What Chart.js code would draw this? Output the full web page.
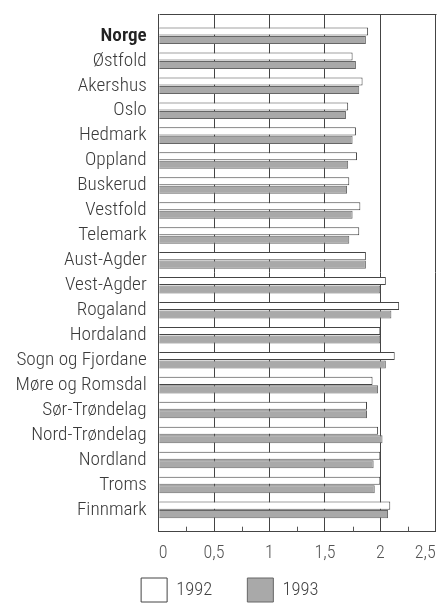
<!DOCTYPE html>
<html>
<head>
<meta charset="utf-8">
<script src="https://cdn.jsdelivr.net/npm/chart.js@4/dist/chart.umd.min.js"></script>
<style>
  html, body { margin: 0; padding: 0; background: #ffffff; }
  #wrap { width: 440px; height: 606px; position: relative; }
</style>
</head>
<body>
<div id="wrap"><canvas id="c"></canvas></div>
<script>
const counties = ['Norge','Østfold','Akershus','Oslo','Hedmark','Oppland','Buskerud','Vestfold','Telemark','Aust-Agder','Vest-Agder','Rogaland','Hordaland','Sogn og Fjordane','Møre og Romsdal','Sør-Trøndelag','Nord-Trøndelag','Nordland','Troms','Finnmark'];
const values1992 = [1.89,1.75,1.84,1.71,1.78,1.79,1.72,1.82,1.81,1.87,2.05,2.17,2.00,2.13,1.93,1.88,1.98,2.00,2.00,2.09];
const values1993 = [1.87,1.78,1.81,1.69,1.75,1.71,1.70,1.75,1.72,1.87,2.00,2.10,2.00,2.05,1.98,1.88,2.02,1.94,1.95,2.07];
const seriesNames = ['1992','1993'];
const xTickLabels = ['0','0,5','1','1,5','2','2,5'];

const FONT = "Roboto, 'Liberation Sans', sans-serif";

const framePlugin = {
  id: 'frame',
  afterLayout(chart) {
    const lg = chart.legend;
    if (lg) {
      const h = lg.bottom - lg.top;
      lg.top = 543; lg.bottom = 543 + h;
      lg.left += 5; lg.right += 5;
    }
  },
  beforeDatasetsDraw(chart) {
    const {ctx, chartArea: a} = chart;
    ctx.save();
    ctx.strokeStyle = '#444';
    ctx.lineWidth = 1;
    ctx.beginPath();
    ctx.moveTo(Math.round(a.left) + 0.5, Math.round(a.top) + 0.5);
    ctx.lineTo(Math.round(a.right) + 0.5, Math.round(a.top) + 0.5);
    ctx.stroke();
    ctx.restore();
  },
  afterDatasetsDraw(chart) {
    const {ctx, chartArea: a, scales} = chart;
    const xs = scales.x;
    ctx.save();
    ctx.strokeStyle = '#555';
    ctx.lineWidth = 1;
    for (let v = 0.25; v < 2.5; v += 0.5) {
      const px = Math.round(xs.getPixelForValue(v)) + 0.5;
      ctx.beginPath();
      ctx.moveTo(px, a.bottom - 5);
      ctx.lineTo(px, a.bottom);
      ctx.stroke();
    }
    ctx.restore();
  }
};

new Chart(document.getElementById('c'), {
  type: 'bar',
  data: {
    datasets: [
      {
        label: seriesNames[0],
        data: values1992.map((v, i) => ({x: v, y: i})),
        backgroundColor: '#ffffff',
        borderColor: '#444444',
        borderWidth: 1,
        categoryPercentage: 0.68,
        barPercentage: 0.95
      },
      {
        label: seriesNames[1],
        data: values1993.map((v, i) => ({x: v, y: i})),
        backgroundColor: '#a9a9a9',
        borderColor: '#666666',
        borderWidth: 1,
        categoryPercentage: 0.68,
        barPercentage: 0.95
      }
    ]
  },
  options: {
    indexAxis: 'y',
    responsive: true,
    maintainAspectRatio: false,
    animation: false,
    layout: { padding: { top: 14, left: 14, right: 4.3, bottom: -26.7 } },
    plugins: {
      tooltip: { enabled: false },
      legend: {
        position: 'bottom',
        labels: {
          boxWidth: 26,
          boxHeight: 24,
          padding: 35,
          color: '#444',
          font: { family: FONT, size: 18.5, weight: '300 condensed' }
        }
      }
    },
    scales: {
      x: {
        type: 'linear',
        min: 0,
        max: 2.5,
        afterFit: s => { s.height = 32; s.paddingLeft = 0; s.paddingRight = 0; },
        grid: { color: '#444', drawTicks: false, lineWidth: 1 },
        border: { color: '#444' },
        ticks: {
          stepSize: 0.5,
          align: 'inner',
          padding: 10.5,
          color: '#555',
          font: { family: FONT, size: 18, weight: '300 condensed' },
          callback: (v, i) => xTickLabels[i]
        }
      },
      y: {
        type: 'linear',
        reverse: true,
        offset: false,
        min: -0.875,
        max: 19.875,
        afterBuildTicks: s => { s.ticks = counties.map((_, i) => ({value: i})); },
        afterFit: s => { s.width = 144.7; s.paddingTop = 0; s.paddingBottom = 0; },
        grid: { display: false, drawTicks: false, offset: false },
        border: { display: true, color: '#444' },
        ticks: {
          autoSkip: false,
          padding: 12,
          color: ctx => ctx.index === 0 ? '#222' : '#3a3a3a',
          font: ctx => ({ family: FONT, size: 19.2, weight: ctx.index === 0 ? '600 condensed' : '350 condensed' }),
          callback: v => counties[v]
        }
      }
    }
  },
  plugins: [framePlugin]
});
</script>
</body>
</html>
